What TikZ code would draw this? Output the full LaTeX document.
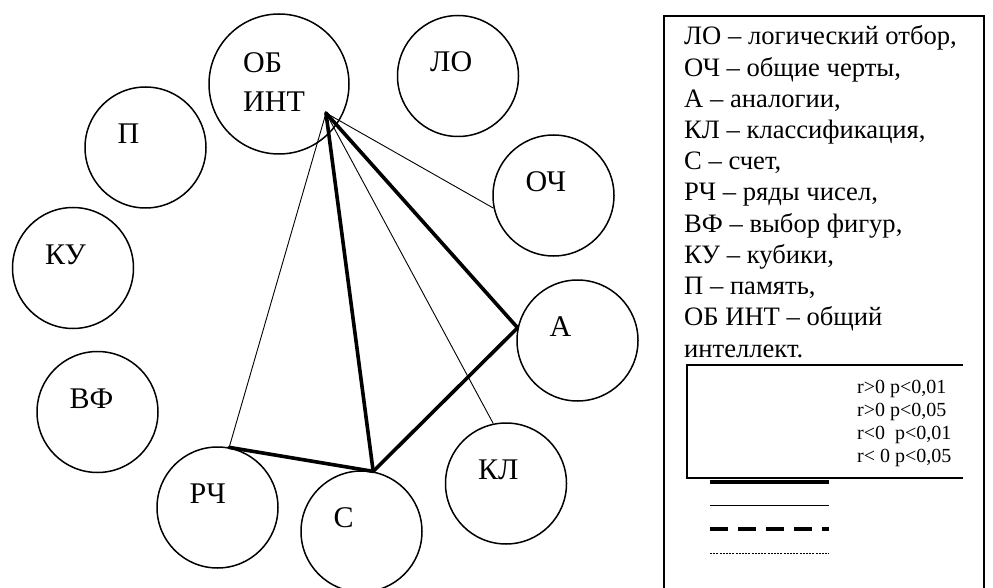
\documentclass[tikz,border=0pt]{standalone}
\usepackage{fontspec}
\setmainfont{Liberation Serif}
\tikzset{
  factor/.style={
    draw, circle, line width=1.5pt,
    minimum size=121pt, inner sep=0pt
  },
  flabel/.style={anchor=base west, inner sep=0pt, font=\fontsize{30}{36}\selectfont},
  legtext/.style={anchor=base west, inner sep=0pt, font=\fontsize{26.6}{31.2}\selectfont},
  sigtext/.style={anchor=base west, inner sep=0pt, font=\fontsize{20}{23.3}\selectfont},
  weak/.style={draw, line width=0.9pt},
  strong/.style={draw, line width=3.6pt, line cap=round},
}

\begin{document}
\begin{tikzpicture}[x=1pt, y=-1pt]
  \useasboundingbox (0,0) rectangle (993,588);

  % круги
  \node[factor, minimum size=140pt] (obint) at (279,84) {};
  \node[factor] (lo)  at (458,76)      {};
  \node[factor] (och) at (553.5,195.5) {};
  \node[factor] (a)   at (577.5,340.5) {};
  \node[factor] (kl)  at (506,483.5)   {};
  \node[factor] (s)   at (361.5,531.5) {};
  \node[factor] (rch) at (217.5,507.5) {};
  \node[factor] (vf)  at (97.5,412)    {};
  \node[factor] (ku)  at (73,268)      {};
  \node[factor] (p)   at (145.5,147.5) {};

  % подписи
  \foreach \n/\t in {lo/ЛО, och/ОЧ, a/А, kl/КЛ, s/С, rch/РЧ, vf/ВФ, ku/КУ, p/П}
    \node[flabel] (\n-t) at ([shift={(-28,-4)}]\n.center) {\t};
  \node[flabel] (obint-t1) at ([shift={(-36,-11)}]obint.center) {ОБ};
  \node[flabel] (obint-t2) at ([shift={(-36,28)}]obint.center)  {ИНТ};

  % связи с ОБ ИНТ
  \coordinate (f) at (326,113);
  \path (f) edge[weak]   (rch.79)
        (f) edge[weak]   (kl.102)
        (f) edge[weak]   (och.192)
        (f) edge[strong] (s.79)
        (f) edge[strong] (a.168);

  % треугольник РЧ - С - А
  \path (rch.79) edge[strong] (s.79)
        (s.79)   edge[strong] (a.168);

  % легенда
  \node[draw, line width=2pt, anchor=north west, inner sep=0pt,
        minimum width=320pt, minimum height=600pt] (legend) at (663,15) {};
  \foreach \t [count=\i from 0] in {{ЛО – логический отбор,}, {ОЧ – общие черты,},
      {А – аналогии,}, {КЛ – классификация,}, {С – счет,}, {РЧ – ряды чисел,},
      {ВФ – выбор фигур,}, {КУ – кубики,}, {П – память,}, {ОБ ИНТ – общий},
      {интеллект.}}
    \node[legtext] (leg-\i) at (684,{45+31.2*\i}) {\t};

  \draw[line width=2pt] (963,365) -- (687,365) -- (687,478) -- (963,478);
  \foreach \t [count=\i from 0] in {{r>0 p<0,01}, {r>0 p<0,05}, {r<0~ p<0,01}, {r< 0 p<0,05}}
    \node[sigtext] (sig-\i) at (857,{393+23.3*\i}) {\t};

  \coordinate (k1a) at (710,482); \coordinate (k1b) at (829,482);
  \coordinate (k2a) at (710,505); \coordinate (k2b) at (829,505);
  \coordinate (k3a) at (710,529); \coordinate (k3b) at (829,529);
  \coordinate (k4a) at (710,553); \coordinate (k4b) at (829,553);
  \draw[line width=4pt] (k1a) -- (k1b);
  \draw[line width=1pt] (k2a) -- (k2b);
  \draw[line width=4pt, dash pattern=on 18pt off 10pt] (k3a) -- (k3b);
  \draw[line width=0.8pt, dash pattern=on 2pt off 1.2pt] (k4a) -- (k4b);

\end{tikzpicture}
\end{document}
